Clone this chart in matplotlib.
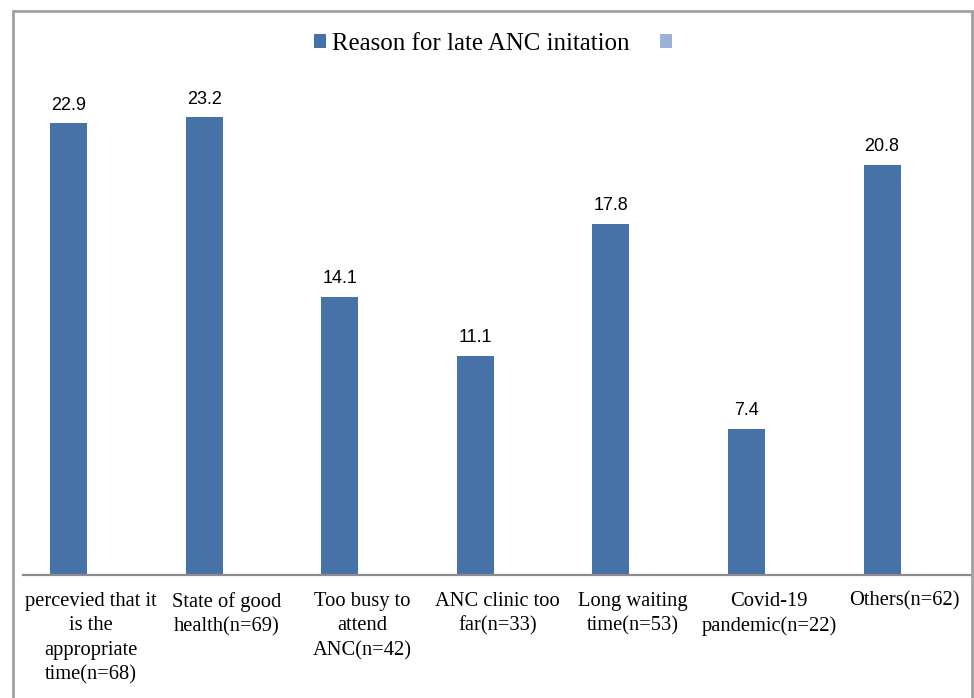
import matplotlib
matplotlib.use("Agg")
import matplotlib.pyplot as plt
from matplotlib.patches import Patch, Rectangle
import matplotlib.transforms as mtransforms

# Reasons for late ANC initiation (% of respondents)
CATEGORIES = [
    "percevied that it\nis the\nappropriate\ntime(n=68)",
    "State of good\nhealth(n=69)",
    "Too busy to\nattend\nANC(n=42)",
    "ANC clinic too\nfar(n=33)",
    "Long waiting\ntime(n=53)",
    "Covid-19\npandemic(n=22)",
    "Others(n=62)",
]
PERCENT = [22.9, 23.2, 14.1, 11.1, 17.8, 7.4, 20.8]
SERIES_NAME = "Reason for late ANC initation"

BAR_COLOR = "#4672A8"
LIGHT_COLOR = "#9CB1D8"
SERIF = "Liberation Serif"
SANS = "Liberation Sans"

W, H = 974, 698
fig = plt.figure(figsize=(W / 100, H / 100), dpi=100)

# outer chart frame (bottom edge runs off the page)
fig.patches.append(Rectangle((13 / W, -0.02), (972 - 13) / W, 1.02 - 11 / H,
                             transform=fig.transFigure, fill=False,
                             edgecolor="#A0A0A0", lw=2))

ax = fig.add_axes([23 / W, 1 - 575 / H, (972 - 23) / W, (575 - 80) / H])
x = list(range(len(PERCENT)))
bars = ax.bar(x, PERCENT, width=0.273, color=BAR_COLOR, zorder=2)

for b, v in zip(bars, PERCENT):
    ax.annotate(f"{v:.1f}", (b.get_x() + b.get_width() / 2, v),
                xytext=(0, 7), textcoords="offset points",
                ha="center", va="bottom", fontsize=13, family=SANS)

ax.set_xlim(-0.336, 6.663)
ax.set_ylim(0, 25.1)

# category labels sit a little right of the bar centres
trans = mtransforms.blended_transform_factory(ax.transData, ax.transAxes)
for xi, lab in zip(x, CATEGORIES):
    ax.annotate(lab, (xi + 0.165, 0), xycoords=trans,
                xytext=(0, -12), textcoords="offset points",
                ha="center", va="top", fontsize=14.8, family=SERIF,
                linespacing=1.4, multialignment="center")

ax.set_xticks([])
ax.set_yticks([])
for side in ["left", "right", "top"]:
    ax.spines[side].set_visible(False)
ax.spines["bottom"].set_color("#8C8C8C")
ax.spines["bottom"].set_linewidth(1.6)

handles = [Patch(facecolor=BAR_COLOR, label=SERIES_NAME),
           Patch(facecolor=LIGHT_COLOR, label=" ")]
fig.legend(handles=handles, loc="center", bbox_to_anchor=(499 / W, 1 - 44 / H),
           ncol=2, frameon=False, prop={"family": SERIF, "size": 17.9},
           handlelength=0.48, handleheight=0.48, handletextpad=0.22,
           columnspacing=1.25)

fig.savefig("out.png", dpi=100)
